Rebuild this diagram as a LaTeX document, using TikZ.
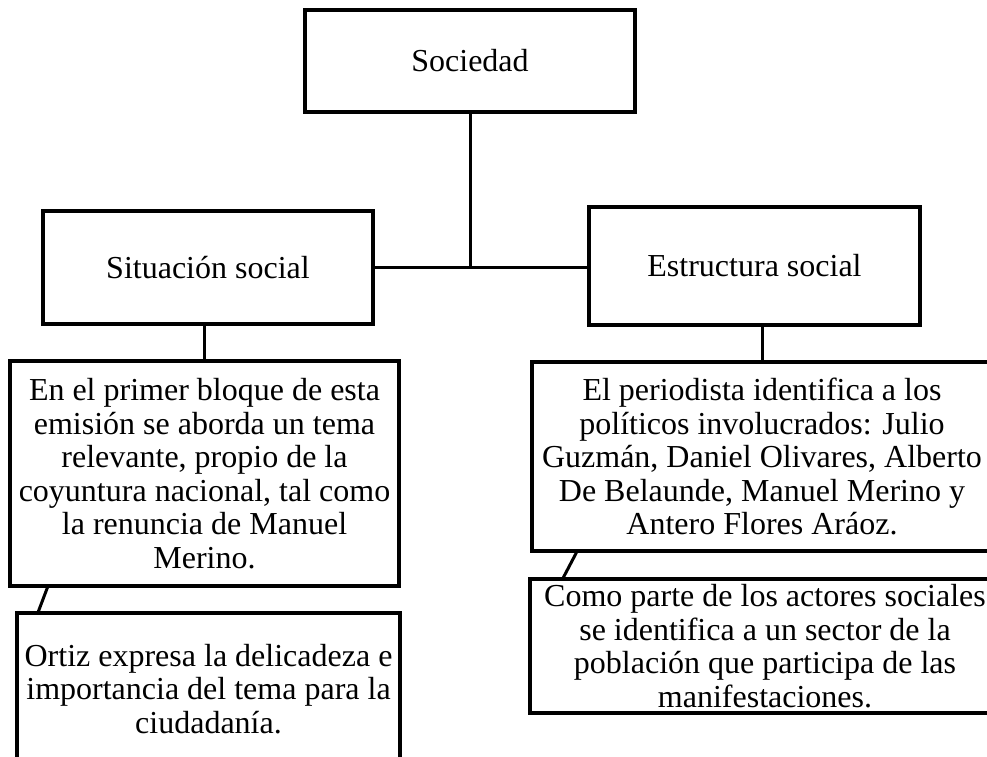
\documentclass[tikz,border=0pt]{standalone}
\usepackage{fontspec}
\setmainfont{Liberation Serif}
\usetikzlibrary{calc,positioning}
\definecolor{ink}{RGB}{0,0,0}
\tikzset{
  box/.style={rectangle,draw=ink,line width=3.2pt,fill=white,align=center,inner sep=0pt,
    font=\fontsize{32}{33.5}\selectfont,minimum width=#1},
  box/.default=330pt,
  link/.style={draw=ink,line width=3pt},
}

\begin{document}
\begin{tikzpicture}[x=1pt,y=-1pt]
  \useasboundingbox (0,0) rectangle (987,756);
  \clip (0,0) rectangle (987,756);
  % top level
  \node[box=330pt,minimum height=102pt] (soc) at (470,61) {\raisebox{-3pt}{Sociedad}};
  \node[box=330pt,minimum height=113pt] (sit) at (208,267.5) {Situación social};
  \node[box=331pt,minimum height=118pt] (est) at (754.5,266) {Estructura social};
  % details
  \node[box=389pt,minimum height=225pt] (bloque) at (204.5,473.5)
    {En el primer bloque de esta\\emisión se aborda un tema\\relevante, propio de la\\coyuntura nacional, tal como\\la renuncia de Manuel\\Merino.};
  \node[box=460pt,minimum height=189pt] (periodista) at (762,456.5)
    {El periodista identifica a los\\políticos involucrados: Julio\\Guzmán, Daniel Olivares, Alberto\\De Belaunde, Manuel Merino y\\Antero Flores Aráoz.};
  \node[box=383pt,minimum height=152pt] (ortiz) at (208.5,689)
    {Ortiz expresa la delicadeza e\\importancia del tema para la\\ciudadanía.};
  \node[box=470pt,minimum height=134pt] (actores) at (765,646)
    {Como parte de los actores sociales\\se identifica a un sector de la\\población que participa de las\\manifestaciones.};
  % connectors
  \coordinate (hub) at (soc.south |- sit.east);
  \draw[link] (soc.south) -- (hub);
  \draw[link] (sit.east) -- (est.west |- sit.east);
  \draw[link] (bloque.north) -- (bloque.north |- sit.south);
  \draw[link] (periodista.north) -- (periodista.north |- est.south);
  \draw[link] ($(bloque.south west)+(39,0)$) -- ($(ortiz.north west)+(23,0)$);
  \draw[link] ($(periodista.south west)+(46,0)$) -- ($(actores.north west)+(35,0)$);
\end{tikzpicture}
\end{document}
